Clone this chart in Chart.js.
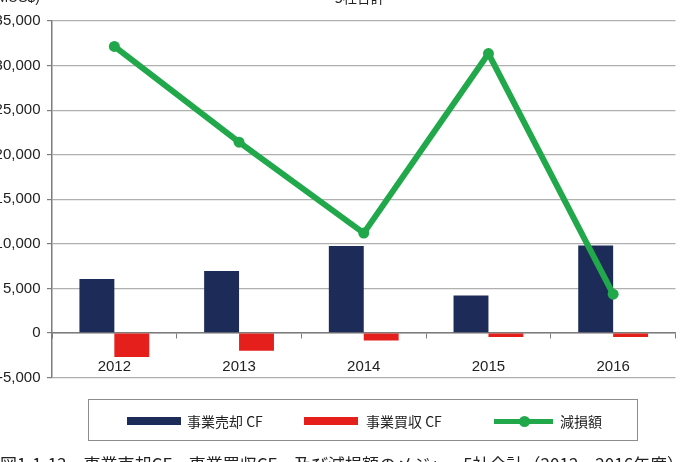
<!DOCTYPE html>
<html>
<head>
<meta charset="utf-8">
<script src="https://cdn.jsdelivr.net/npm/chart.js@4"></script>
<style>
  body { margin: 0; background: #fff; }
  #wrap { position: relative; width: 681px; height: 462px; overflow: hidden; background: #fff; }
  #chart { position: absolute; left: 0; top: 0; }
  .txt { position: absolute; white-space: nowrap; color: #222; line-height: 1; }
  .cjk { font-family: "Noto Sans CJK JP", "Noto Sans", sans-serif; }
  .lat { font-family: "Liberation Sans", Arial, sans-serif; }
  #legendBox { position: absolute; left: 88px; top: 399px; width: 548px; height: 40px; border: 1.5px solid #8c8c8c; }
  .sw { position: absolute; }
</style>
</head>
<body>
<div id="wrap">
  <canvas id="chart" width="681" height="462"></canvas>
  <div class="txt lat" style="right:641px; top:-10px; font-size:14px;">(MUS$)</div>
  <div class="txt cjk" style="left:335px; top:-10px; font-size:14px;">5社合計</div>
  <div id="legendBox"></div>
  <div class="sw" style="left:127px; top:417px; width:54px; height:8px; background:#1c2b57;"></div>
  <div class="txt cjk" style="left:187px; top:414px; font-size:14px;">事業売却 CF</div>
  <div class="sw" style="left:304px; top:417px; width:54px; height:8px; background:#e5201c;"></div>
  <div class="txt cjk" style="left:366px; top:414px; font-size:14px;">事業買収 CF</div>
  <div class="sw" style="left:494px; top:419px; width:59px; height:5px; background:#20a84b;"></div>
  <div class="sw" style="left:519px; top:416px; width:11px; height:11px; border-radius:50%; background:#20a84b;"></div>
  <div class="txt cjk" style="left:560px; top:414px; font-size:14px;">減損額</div>
  <div class="txt cjk" style="left:0px; top:455px; font-size:17px;">図1-1-13　事業売却CF、事業買収CF、及び減損額のメジャー5社合計（2012～2016年度）</div>
</div>
<script>
// Data (MUS$)
var years = ['2012', '2013', '2014', '2015', '2016'];
var divestCF = [6050, 6950, 9750, 4200, 9800];
var acquireCF = [-2700, -2000, -850, -450, -450];
var impairment = [32150, 21400, 11200, 31350, 4350];
var yTicks = [-5000, 0, 5000, 10000, 15000, 20000, 25000, 30000, 35000];

var gridGray = '#b0b0b0';
var axisGray = '#7c7c7c';

var ctx = document.getElementById('chart').getContext('2d');
var myChart = new Chart(ctx, {
    type: 'bar',
    data: {
        labels: years,
        datasets: [{
            type: 'line',
            label: '減損額',
            data: impairment,
            borderColor: '#20a84b',
            backgroundColor: '#20a84b',
            borderWidth: 6,
            pointRadius: 5.5,
            pointBorderWidth: 0,
            pointBackgroundColor: '#20a84b',
            tension: 0,
            order: 0
        }, {
            label: '事業売却 CF',
            data: divestCF,
            backgroundColor: '#1c2b57',
            order: 1
        }, {
            label: '事業買収 CF',
            data: acquireCF,
            backgroundColor: '#e5201c',
            order: 1
        }]
    },
    options: {
        responsive: false,
        animation: false,
        devicePixelRatio: 1,
        layout: { padding: { top: 21, right: 4, bottom: 84.5, left: 0 } },
        datasets: { bar: { barPercentage: 1, categoryPercentage: 0.56 } },
        plugins: {
            legend: { display: false },
            tooltip: { enabled: false },
            title: { display: false }
        },
        scales: {
            x: {
                type: 'category',
                position: { y: 0 },
                offset: true,
                grid: {
                    offset: true,
                    drawOnChartArea: false,
                    drawTicks: true,
                    tickLength: 5,
                    tickColor: axisGray
                },
                border: { display: true, color: axisGray, width: 1.5 },
                ticks: {
                    padding: 20,
                    color: '#222',
                    font: { family: 'Liberation Sans', size: 15 }
                }
            },
            y: {
                min: -5000,
                max: 35000,
                afterBuildTicks: function(scale) {
                    scale.ticks = yTicks.map(function(v) { return { value: v }; });
                },
                afterFit: function(scale) { scale.width = 52; },
                grid: {
                    color: gridGray,
                    lineWidth: 1.2,
                    drawTicks: true,
                    tickLength: 5,
                    tickColor: axisGray
                },
                border: { display: true, color: axisGray, width: 1.5 },
                ticks: {
                    padding: 6.5,
                    color: '#222',
                    font: { family: 'Liberation Sans', size: 15 },
                    callback: function(v) {
                        return v.toLocaleString('en-US');
                    }
                }
            }
        }
    }
});
</script>
</body>
</html>
